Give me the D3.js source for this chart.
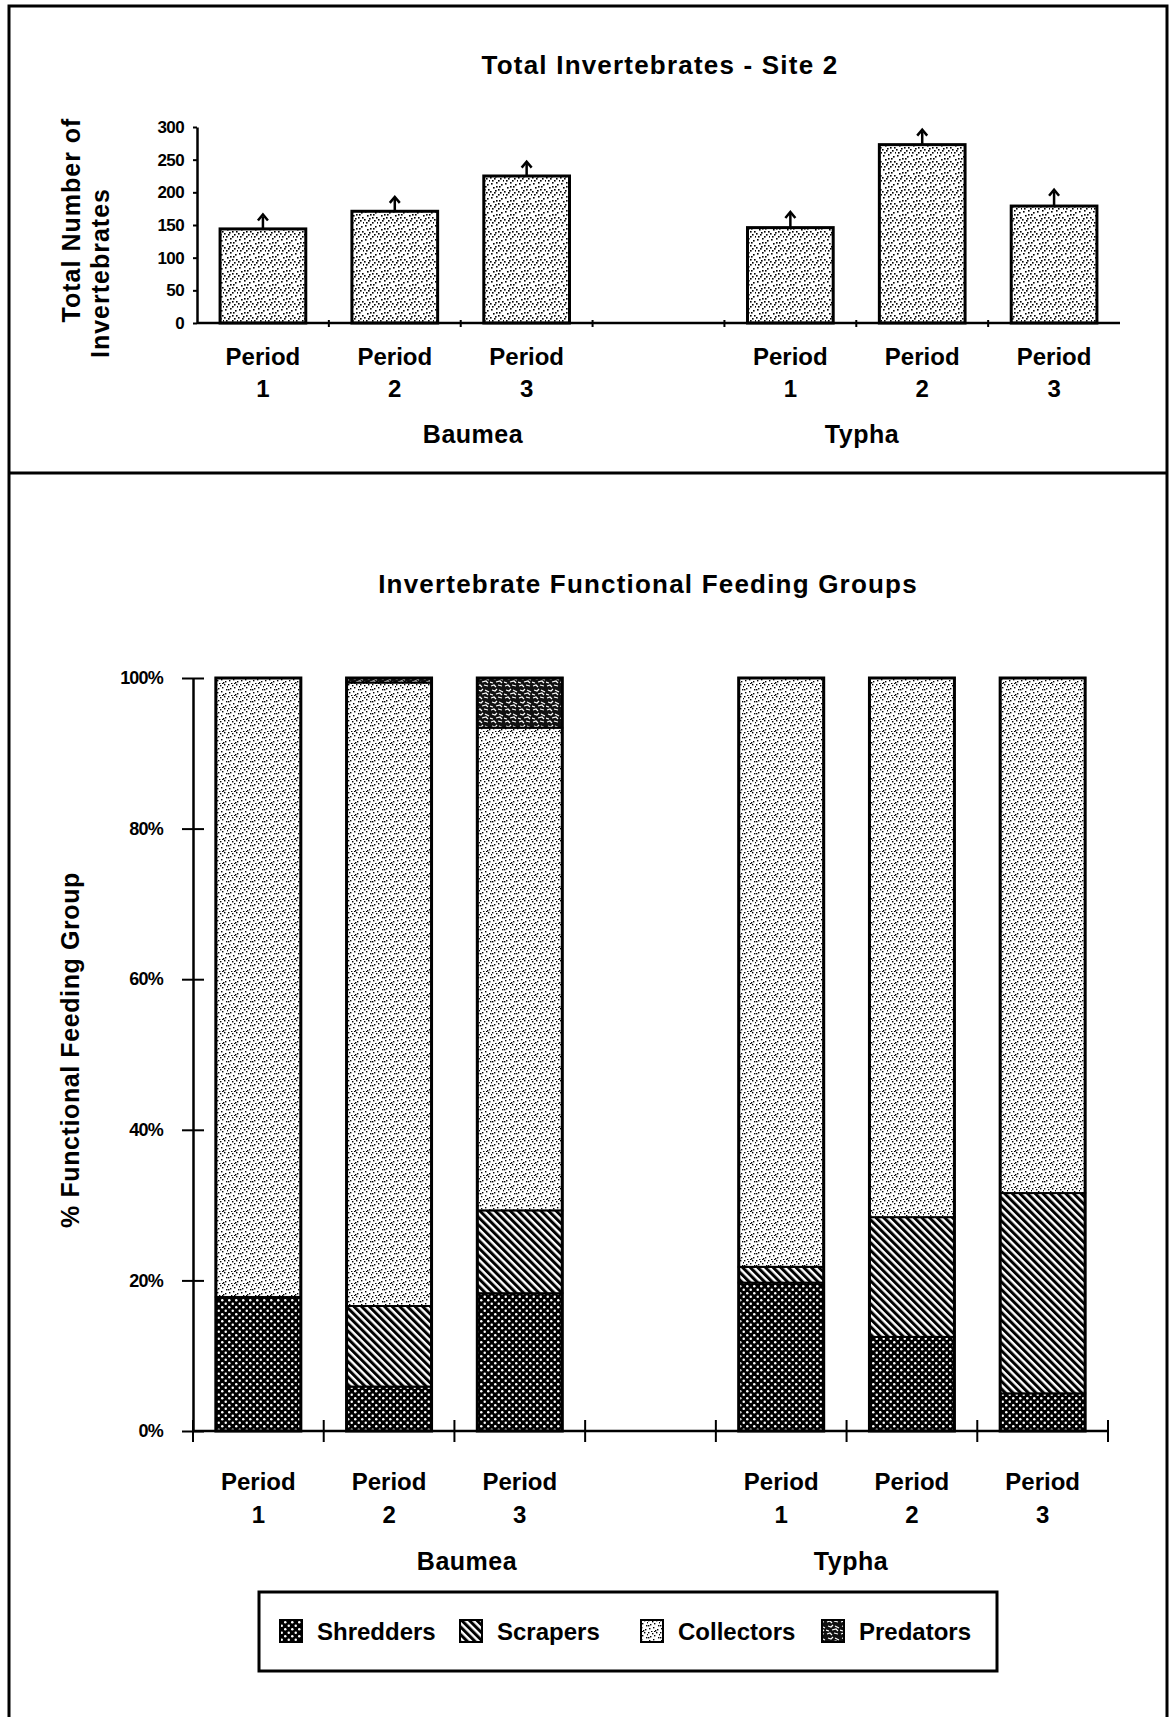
<!DOCTYPE html>
<html>
<head>
<meta charset="utf-8">
<script src="https://cdn.jsdelivr.net/npm/d3@7"></script>
<style>
  html, body { margin: 0; padding: 0; background: #fff; }
  svg { display: block; }
  text { font-family: "Liberation Sans", Arial, Helvetica, sans-serif; font-weight: bold; fill: #000; }
</style>
</head>
<body>
<svg id="chart" width="1170" height="1717"></svg>
<script>
// ---------------- DATA ----------------
const slots = ["B1", "B2", "B3", "gap", "T1", "T2", "T3"];
const barSlots = ["B1", "B2", "B3", "T1", "T2", "T3"];
const periodNums = ["1", "2", "3", "1", "2", "3"];
const sites = ["Baumea", "Typha"];

// Top chart: total invertebrates (bar) and upper error value
const totalInvert = [144, 171, 225, 146, 273, 179];
const totalUpper  = [166, 193, 247, 170, 296, 204];
const topTicks = [0, 50, 100, 150, 200, 250, 300];

// Bottom chart: % functional feeding group
const feedGroups = ["Shredders", "Scrapers", "Collectors", "Predators"];
const shredders  = [17.8, 5.9, 18.3, 19.7, 12.5, 5.0];
const scrapers   = [0.0, 10.7, 11.0, 2.1, 15.9, 26.6];
const collectors = [82.2, 82.8, 64.1, 78.2, 71.6, 68.4];
const predators  = [0.0, 0.6, 6.6, 0.0, 0.0, 0.0];
const pctTicks = [0, 20, 40, 60, 80, 100];

const titleTop = "Total Invertebrates - Site 2";
const titleBottom = "Invertebrate Functional Feeding Groups";

// ---------------- SVG ----------------
const svg = d3.select("#chart");
svg.append("rect").attr("width", 1170).attr("height", 1717).attr("fill", "#fff");

const defs = svg.append("defs");

// stipple pattern (collectors / top bars)
function stipple(id, size, pts, r) {
  const p = defs.append("pattern").attr("id", id).attr("patternUnits", "userSpaceOnUse")
    .attr("width", size).attr("height", size);
  p.append("rect").attr("width", size).attr("height", size).attr("fill", "#fff");
  pts.forEach(([x, y]) => p.append("rect").attr("x", x).attr("y", y).attr("width", r).attr("height", r).attr("fill", "#000"));
}
stipple("collect", 12, [[0,0],[4,1],[8,0],[2,4],[6,3],[10,5],[1,8],[5,7],[9,9],[3,11],[7,10],[11,2],[0,5],[6,11]], 1.4);
stipple("topfill", 14, [[1,1],[6,0],[11,2],[3,5],[9,4],[0,9],[5,8],[12,7],[8,12],[2,12],[10,10],[6,4],[13,12],[4,10],[8,7]], 1.6);

// shredders: black with white dots
{
  const p = defs.append("pattern").attr("id", "shred").attr("patternUnits", "userSpaceOnUse")
    .attr("width", 7).attr("height", 7);
  p.append("rect").attr("width", 7).attr("height", 7).attr("fill", "#000");
  p.append("circle").attr("cx", 1.75).attr("cy", 1.75).attr("r", 1.25).attr("fill", "#fff");
  p.append("circle").attr("cx", 5.25).attr("cy", 5.25).attr("r", 1.25).attr("fill", "#fff");
}
// scrapers: diagonal "\\" lines
{
  const p = defs.append("pattern").attr("id", "scrape").attr("patternUnits", "userSpaceOnUse")
    .attr("width", 5.4).attr("height", 10).attr("patternTransform", "rotate(-45)");
  p.append("rect").attr("width", 5.4).attr("height", 10).attr("fill", "#fff");
  p.append("rect").attr("x", 0).attr("width", 3).attr("height", 10).attr("fill", "#000");
}
// predators: dark mottled
{
  const p = defs.append("pattern").attr("id", "pred").attr("patternUnits", "userSpaceOnUse")
    .attr("width", 14).attr("height", 12);
  p.append("rect").attr("width", 14).attr("height", 12).attr("fill", "#111");
  p.append("path").attr("d", "M1,2 L4,1 L6,3 M8,1 L12,2 M2,6 L5,7 L7,5 M9,6 L13,8 M0,10 L3,11 M6,10 L10,9 L12,11")
    .attr("stroke", "#fff").attr("stroke-width", 1.2).attr("fill", "none");
}
const patternOf = { Shredders: "url(#shred)", Scrapers: "url(#scrape)", Collectors: "url(#collect)", Predators: "url(#pred)" };

// ---------------- FRAME ----------------
svg.append("path")
  .attr("d", "M9,1717 L9,6 L1167,6 L1167,1717")
  .attr("fill", "none").attr("stroke", "#000").attr("stroke-width", 3);
svg.append("line").attr("x1", 9).attr("x2", 1167).attr("y1", 473).attr("y2", 473)
  .attr("stroke", "#000").attr("stroke-width", 3);

// ---------------- TOP CHART ----------------
const xTop = d3.scaleBand().domain(slots).range([197, 1120]).paddingInner(0.35).paddingOuter(0.175);
const yTop = d3.scaleLinear().domain([0, 300]).range([323, 127]);

svg.append("text").attr("x", 660).attr("y", 74).attr("text-anchor", "middle")
  .attr("font-size", 26).attr("letter-spacing", 1.2).text(titleTop);

// y label (two lines)
svg.append("text").attr("transform", "translate(80,220) rotate(-90)").attr("text-anchor", "middle")
  .attr("font-size", 25).attr("letter-spacing", 1).text("Total Number of");
svg.append("text").attr("transform", "translate(109,273) rotate(-90)").attr("text-anchor", "middle")
  .attr("font-size", 25).attr("letter-spacing", 1).text("Invertebrates");

// bars
const topG = svg.append("g");
topG.selectAll("rect.bar").data(barSlots).join("rect")
  .attr("class", "bar")
  .attr("x", d => xTop(d))
  .attr("width", xTop.bandwidth())
  .attr("y", (d, i) => yTop(totalInvert[i]))
  .attr("height", (d, i) => yTop(0) - yTop(totalInvert[i]))
  .attr("fill", "url(#topfill)")
  .attr("stroke", "#000").attr("stroke-width", 3);

// error bars with arrow head
barSlots.forEach((d, i) => {
  const cx = xTop(d) + xTop.bandwidth() / 2;
  const yb = yTop(totalInvert[i]), yt = yTop(totalUpper[i]);
  topG.append("line").attr("x1", cx).attr("x2", cx).attr("y1", yb).attr("y2", yt + 2)
    .attr("stroke", "#000").attr("stroke-width", 2.5);
  topG.append("path").attr("d", `M${cx - 5},${yt + 6} L${cx},${yt} L${cx + 5},${yt + 6}`)
    .attr("fill", "none").attr("stroke", "#000").attr("stroke-width", 2.5);
});

// y axis
const yAxisTop = svg.append("g").attr("transform", `translate(${xTop.range()[0]},0)`)
  .call(d3.axisLeft(yTop).tickValues(topTicks).tickSize(4).tickSizeOuter(0).tickPadding(9));
yAxisTop.select(".domain").attr("stroke-width", 2.5);
yAxisTop.selectAll(".tick line").attr("stroke-width", 2);
yAxisTop.selectAll(".tick text").attr("font-size", 17).attr("font-family", "\"Liberation Sans\", Arial, sans-serif")
  .attr("font-weight", "bold").attr("letter-spacing", -0.6);

// x axis line with boundary ticks
const xAxisTopG = svg.append("g");
xAxisTopG.append("line").attr("x1", xTop.range()[0]).attr("x2", xTop.range()[1])
  .attr("y1", yTop(0)).attr("y2", yTop(0)).attr("stroke", "#000").attr("stroke-width", 2.5);
d3.range(1, slots.length).forEach(k => {
  const bx = xTop.range()[0] + k * xTop.step();
  xAxisTopG.append("line").attr("x1", bx).attr("x2", bx).attr("y1", yTop(0) - 3).attr("y2", yTop(0) + 4)
    .attr("stroke", "#000").attr("stroke-width", 2);
});

// category labels
barSlots.forEach((d, i) => {
  const cx = xTop(d) + xTop.bandwidth() / 2;
  svg.append("text").attr("x", cx).attr("y", 365).attr("text-anchor", "middle").attr("font-size", 24).text("Period");
  svg.append("text").attr("x", cx).attr("y", 397).attr("text-anchor", "middle").attr("font-size", 24).text(periodNums[i]);
});
const topSiteX = [473, 862];
sites.forEach((s, i) => {
  svg.append("text").attr("x", topSiteX[i]).attr("y", 443).attr("text-anchor", "middle")
    .attr("font-size", 25).attr("letter-spacing", 0.5).text(s);
});

// ---------------- BOTTOM CHART ----------------
const xBot = d3.scaleBand().domain(slots).range([193, 1108]).paddingInner(0.35).paddingOuter(0.175);
const yBot = d3.scaleLinear().domain([0, 100]).range([1431, 678]);

svg.append("text").attr("x", 648).attr("y", 593).attr("text-anchor", "middle")
  .attr("font-size", 26).attr("letter-spacing", 1.2).text(titleBottom);

svg.append("text").attr("transform", "translate(79,1050) rotate(-90)").attr("text-anchor", "middle")
  .attr("font-size", 25).attr("letter-spacing", 0.6).text("% Functional Feeding Group");

const rows = barSlots.map((s, i) => ({
  slot: s,
  Shredders: shredders[i], Scrapers: scrapers[i], Collectors: collectors[i], Predators: predators[i]
}));
const stacked = d3.stack().keys(feedGroups)(rows);

const botG = svg.append("g");
stacked.forEach(layer => {
  botG.selectAll(null).data(layer.filter(d => d[1] - d[0] > 0)).join("rect")
    .attr("x", d => xBot(d.data.slot))
    .attr("width", xBot.bandwidth())
    .attr("y", d => yBot(d[1]))
    .attr("height", d => yBot(d[0]) - yBot(d[1]))
    .attr("fill", patternOf[layer.key])
    .attr("stroke", "#000").attr("stroke-width", 2);
});
// overall outline
botG.selectAll("rect.outline").data(rows).join("rect").attr("class", "outline")
  .attr("x", d => xBot(d.slot)).attr("width", xBot.bandwidth())
  .attr("y", yBot(100)).attr("height", yBot(0) - yBot(100))
  .attr("fill", "none").attr("stroke", "#000").attr("stroke-width", 3);

// y axis with crossing ticks
const yAxisBot = svg.append("g").attr("transform", `translate(${xBot.range()[0]},0)`)
  .call(d3.axisLeft(yBot).tickValues(pctTicks).tickFormat(d => d + "%").tickSize(11).tickSizeOuter(0).tickPadding(19));
yAxisBot.select(".domain").attr("stroke-width", 2.5);
yAxisBot.selectAll(".tick line").attr("x1", 11).attr("stroke-width", 2);
yAxisBot.selectAll(".tick text").attr("font-size", 18)
  .attr("font-family", "\"Liberation Sans\", Arial, sans-serif")
  .attr("font-weight", "bold").attr("letter-spacing", -0.8);

// x axis with crossing boundary ticks
const xAxisBotG = svg.append("g");
xAxisBotG.append("line").attr("x1", xBot.range()[0]).attr("x2", xBot.range()[1])
  .attr("y1", yBot(0)).attr("y2", yBot(0)).attr("stroke", "#000").attr("stroke-width", 2.5);
d3.range(0, slots.length + 1).forEach(k => {
  const bx = xBot.range()[0] + k * xBot.step();
  xAxisBotG.append("line").attr("x1", bx).attr("x2", bx).attr("y1", yBot(0) - 11).attr("y2", yBot(0) + 11)
    .attr("stroke", "#000").attr("stroke-width", 2);
});

barSlots.forEach((d, i) => {
  const cx = xBot(d) + xBot.bandwidth() / 2;
  svg.append("text").attr("x", cx).attr("y", 1490).attr("text-anchor", "middle").attr("font-size", 24).text("Period");
  svg.append("text").attr("x", cx).attr("y", 1523).attr("text-anchor", "middle").attr("font-size", 24).text(periodNums[i]);
});
const botSiteX = [467, 851];
sites.forEach((s, i) => {
  svg.append("text").attr("x", botSiteX[i]).attr("y", 1570).attr("text-anchor", "middle")
    .attr("font-size", 25).attr("letter-spacing", 0.5).text(s);
});

// ---------------- LEGEND ----------------
const legend = svg.append("g");
legend.append("rect").attr("x", 259).attr("y", 1592).attr("width", 738).attr("height", 79)
  .attr("fill", "#fff").attr("stroke", "#000").attr("stroke-width", 3);
const legX = [280, 460, 641, 822];
feedGroups.forEach((g, i) => {
  legend.append("rect").attr("x", legX[i]).attr("y", 1620).attr("width", 22).attr("height", 22)
    .attr("fill", patternOf[g]).attr("stroke", "#000").attr("stroke-width", 2);
  legend.append("text").attr("x", legX[i] + 37).attr("y", 1640).attr("font-size", 24).text(g);
});
</script>
</body>
</html>
